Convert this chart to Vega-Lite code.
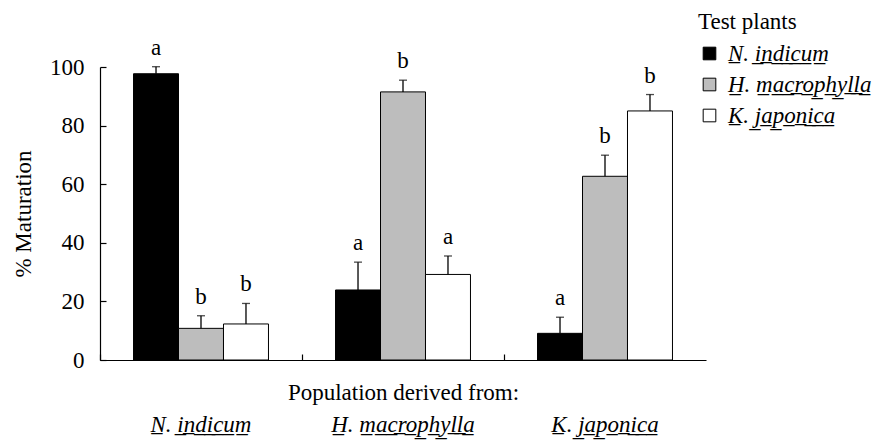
{
  "$schema": "https://vega.github.io/schema/vega-lite/v6.json",
  "autosize": {"type": "none"},
  "padding": {"left": 100, "top": 67, "right": 173, "bottom": 84},
  "width": 606,
  "height": 293,
  "background": "white",
  "config": {
    "view": {"stroke": null},
    "font": "Liberation Serif, Times New Roman, DejaVu Serif, serif",
    "axis": {"labelFont": "Liberation Serif, Times New Roman, DejaVu Serif, serif", "titleFont": "Liberation Serif, Times New Roman, DejaVu Serif, serif", "labelColor": "black", "titleColor": "black", "domainColor": "black", "tickColor": "black", "titleFontWeight": "normal", "labelFontSize": 23, "titleFontSize": 23}
  },
  "data": {
    "values": [
      {"pop": "N. indicum", "plant": "N. indicum", "value": 97.7, "upper": 100.1, "letter": "a"},
      {"pop": "N. indicum", "plant": "H. macrophylla", "value": 10.8, "upper": 15.1, "letter": "b"},
      {"pop": "N. indicum", "plant": "K. japonica", "value": 12.3, "upper": 19.3, "letter": "b"},
      {"pop": "H. macrophylla", "plant": "N. indicum", "value": 23.9, "upper": 33.4, "letter": "a"},
      {"pop": "H. macrophylla", "plant": "H. macrophylla", "value": 91.5, "upper": 95.5, "letter": "b"},
      {"pop": "H. macrophylla", "plant": "K. japonica", "value": 29.2, "upper": 35.5, "letter": "a"},
      {"pop": "K. japonica", "plant": "N. indicum", "value": 9.1, "upper": 14.6, "letter": "a"},
      {"pop": "K. japonica", "plant": "H. macrophylla", "value": 62.7, "upper": 69.9, "letter": "b"},
      {"pop": "K. japonica", "plant": "K. japonica", "value": 85.0, "upper": 90.6, "letter": "b"}
    ]
  },
  "encoding": {
    "x": {
      "field": "pop", "type": "nominal", "sort": ["N. indicum", "H. macrophylla", "K. japonica"],
      "scale": {"paddingInner": 0, "paddingOuter": 0},
      "axis": {
        "title": "Population derived from:",
        "titleY": 21, "titleBaseline": "top",
        "labelAngle": 0, "labelPadding": 59, "labelBaseline": "top",
        "labelFontStyle": "italic",
        "labelExpr": "replace(datum.label, /([A-Za-z])/g, '$1\u0332')",
        "bandPosition": 0, "tickSize": -6, "domainWidth": 1.2, "tickWidth": 1.2
      }
    },
    "xOffset": {
      "field": "plant", "type": "nominal", "sort": ["N. indicum", "H. macrophylla", "K. japonica"],
      "scale": {"paddingInner": 0, "paddingOuter": 0.745}
    }
  },
  "layer": [
    {
      "mark": {"type": "bar", "stroke": "black", "strokeWidth": 1},
      "encoding": {
        "y": {
          "field": "value", "type": "quantitative",
          "scale": {"domain": [0, 100], "nice": false},
          "axis": {"title": "% Maturation", "values": [0, 20, 40, 60, 80, 100], "grid": false, "tickSize": -6, "labelPadding": 22, "titlePadding": 14, "domainWidth": 1.2, "tickWidth": 1.2}
        },
        "fill": {
          "field": "plant", "type": "nominal", "sort": ["N. indicum", "H. macrophylla", "K. japonica"],
          "scale": {"domain": ["N. indicum", "H. macrophylla", "K. japonica"], "range": ["#000000", "#bdbdbd", "#ffffff"]},
          "legend": {
            "title": "Test plants", "orient": "none", "legendX": 598, "legendY": -56,
            "titleFont": "Liberation Serif, Times New Roman, DejaVu Serif, serif", "titleFontSize": 23, "titleFontWeight": "normal", "titleColor": "black",
            "labelFont": "Liberation Serif, Times New Roman, DejaVu Serif, serif", "labelFontSize": 23, "labelFontStyle": "italic", "labelColor": "black",
            "labelExpr": "replace(datum.label, /([A-Za-z])/g, '$1\u0332')",
            "symbolType": "square", "symbolSize": 160, "symbolStrokeColor": "black", "symbolStrokeWidth": 1,
            "labelBaseline": "middle", "rowPadding": 7, "titlePadding": 8, "labelOffset": 7, "labelLimit": 300
          }
        }
      }
    },
    {
      "mark": {"type": "rule", "color": "black", "strokeWidth": 1.3},
      "encoding": {"y": {"field": "value", "type": "quantitative"}, "y2": {"field": "upper"}}
    },
    {
      "mark": {"type": "tick", "color": "black", "thickness": 1.3, "size": 8, "orient": "horizontal"},
      "encoding": {"y": {"field": "upper", "type": "quantitative"}}
    },
    {
      "mark": {"type": "text", "baseline": "bottom", "dy": -7, "fontSize": 23, "font": "Liberation Serif, Times New Roman, DejaVu Serif, serif", "color": "black"},
      "encoding": {"y": {"field": "upper", "type": "quantitative"}, "text": {"field": "letter"}}
    }
  ]
}
